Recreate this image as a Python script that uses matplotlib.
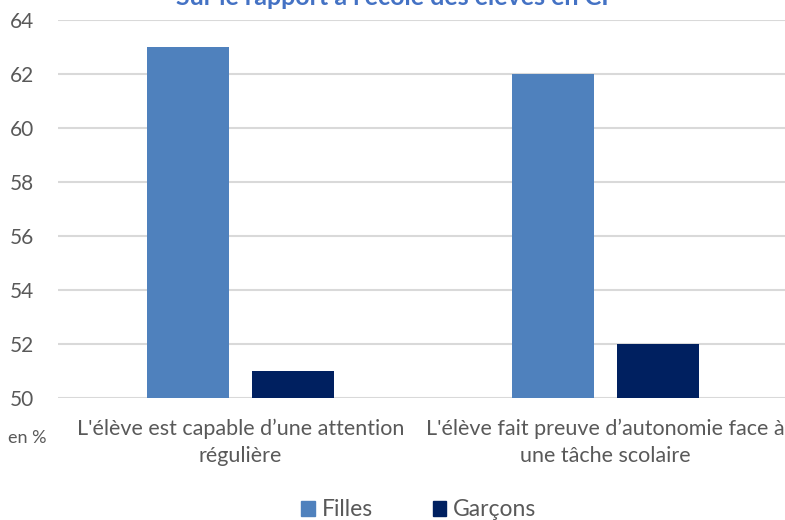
import numpy as np
import matplotlib.pyplot as plt
from matplotlib.patches import Patch

categories = ["L'élève est capable d\u2019une attention\nrégulière",
              "L'élève fait preuve d\u2019autonomie face à\nune tâche scolaire"]
filles = [63, 62]
garcons = [51, 52]
series_names = ["Filles", "Garçons"]
title = "Sur le rapport à l'école des élèves en CP"

plt.rcParams['font.family'] = ['Lato', 'DejaVu Sans']

fig = plt.figure(figsize=(7.85, 5.2), dpi=100)
ax = fig.add_axes([58 / 785, 1 - 398 / 520, 730 / 785, 378 / 520])

x = np.arange(len(categories))
w = 0.225
gap = 0.063
c_f = '#4F81BD'
c_g = '#002060'
ax.bar(x - (w + gap) / 2, np.array(filles) - 50, w, bottom=50, color=c_f, zorder=3)
ax.bar(x + (w + gap) / 2, np.array(garcons) - 50, w, bottom=50, color=c_g, zorder=3)

ax.set_xlim(-0.5, len(categories) - 0.5)
ax.set_ylim(50, 64)
ax.set_yticks(range(50, 65, 2))
ax.yaxis.grid(True, color='#d9d9d9', linewidth=1.5, zorder=0)
for s in ax.spines.values():
    s.set_visible(False)
ax.tick_params(axis='both', length=0, colors='#595959')
ax.tick_params(axis='y', labelsize=15, pad=17)
ax.set_xticks(x)
ax.set_xticklabels(categories, fontsize=15.5, color='#595959', linespacing=1.45)
ax.tick_params(axis='x', pad=15)

fig.text(8 / 785, 1 - 438 / 520, "en %", fontsize=13, color='#595959', va='center')

fig.text(396 / 785, 1 - 5 / 520, title, fontsize=18, fontweight='bold', color='#4472C4',
         ha='center', va='baseline')

handles = [Patch(color=c_f), Patch(color=c_g)]
fig.legend(handles, series_names, loc='center', bbox_to_anchor=(419 / 785, 1 - 510 / 520),
           ncol=2, frameon=False, fontsize=16.5, handlelength=0.6, handleheight=0.6,
           handletextpad=0.3, columnspacing=2.6, labelcolor='#595959')

fig.savefig('out.png', dpi=100)
